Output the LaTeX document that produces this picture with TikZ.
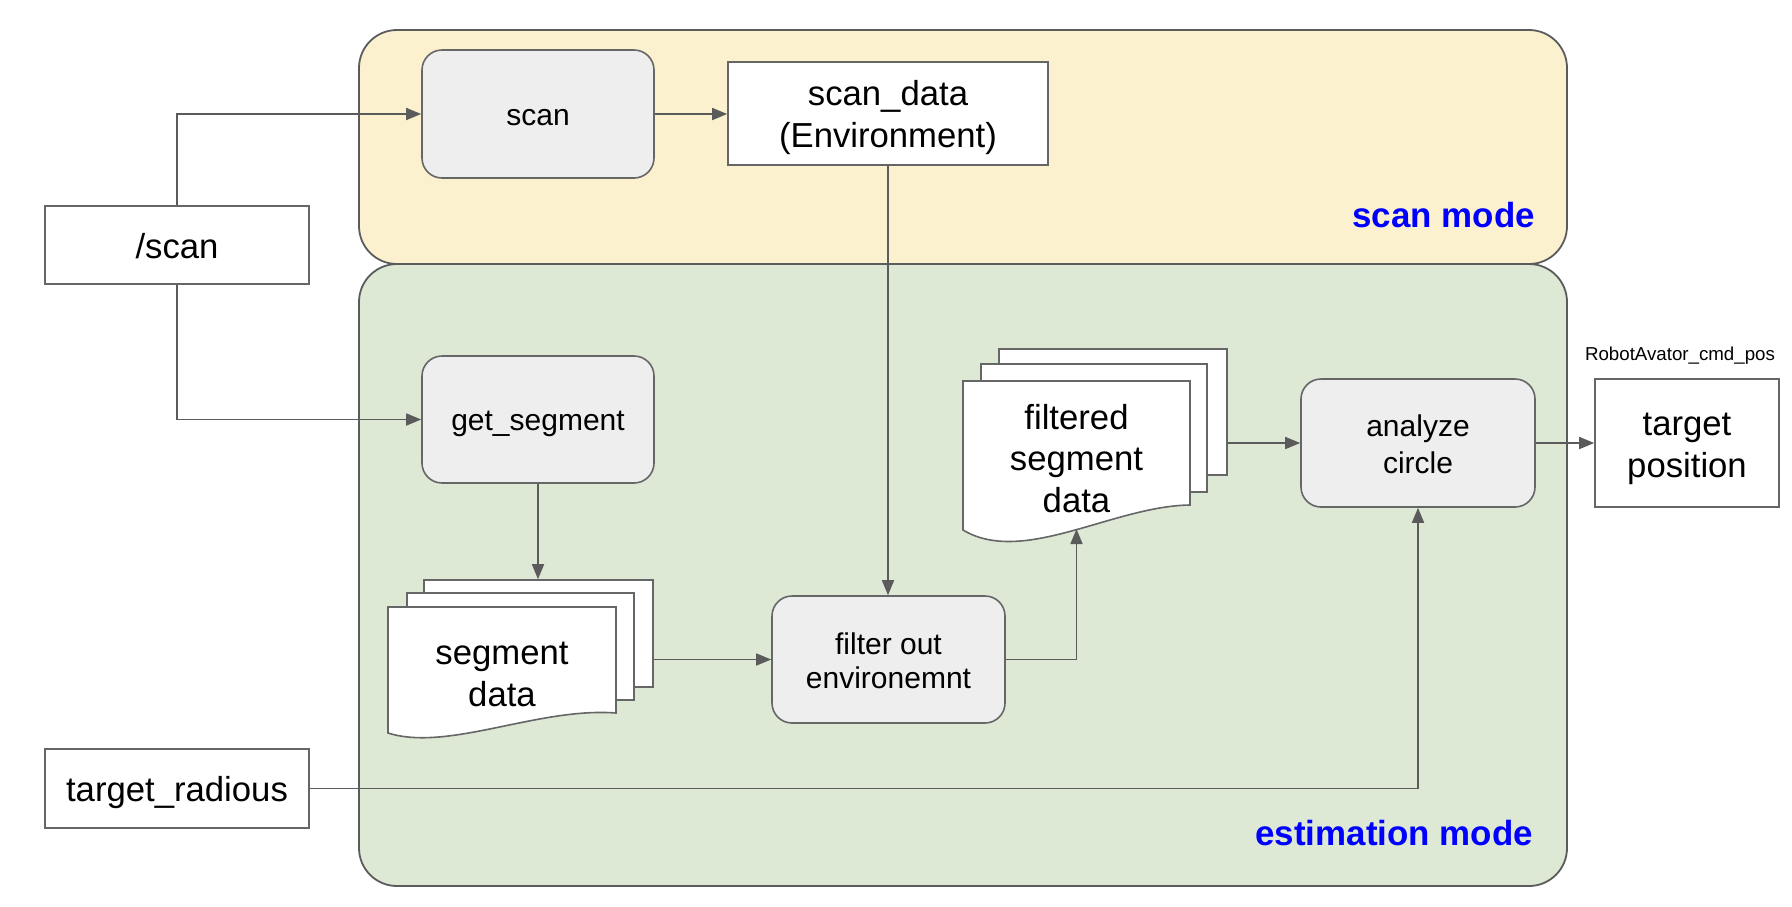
\documentclass[tikz,border=0pt]{standalone}
\usepackage{fontspec}
\setmainfont{Liberation Sans}
\usetikzlibrary{arrows.meta}
\definecolor{ybg}{HTML}{FCF1CF}
\definecolor{gbg}{HTML}{DDE8D5}
\definecolor{procfill}{HTML}{EEEEEE}
\definecolor{edgegray}{HTML}{666666}
\definecolor{lingray}{HTML}{5B5B5B}
\definecolor{modeblue}{HTML}{0000FF}
\newcommand{\lstrut}{\rule[-0.18em]{0pt}{1.15em}}
\begin{document}
\begin{tikzpicture}[x=1pt,y=-1pt,
  container/.style={draw=lingray, line width=1.8pt, rounded corners=38pt, inner sep=0pt},
  proc/.style={draw=edgegray, fill=procfill, line width=1.6pt, rounded corners=20pt, inner sep=0pt, align=center, font=\fontsize{30}{34.5}\selectfont},
  databox/.style={draw=edgegray, fill=white, line width=1.6pt, inner sep=0pt, align=center, font=\fontsize{34.7}{39.9}\selectfont},
  page/.style={draw=edgegray, fill=white, line width=1.6pt, inner sep=0pt},
  doctext/.style={inner sep=0pt, align=center, font=\fontsize{34.7}{39.9}\selectfont},
  arr/.style={draw=lingray, line width=1.6pt, -{Triangle[length=15pt,width=12pt]}},
  modelabel/.style={font=\fontsize{34.9}{42}\selectfont\bfseries, text=modeblue, anchor=base east, inner sep=0pt},
]
\useasboundingbox (0,0) rectangle (1792,906);
\fill[white] (0,0) rectangle (1792,906);

% containers
\node[container, fill=gbg, minimum width=1208pt, minimum height=622pt] (estc) at (963,575) {};
\node[container, fill=ybg, minimum width=1208pt, minimum height=234pt] (scanc) at (963,147) {};
\node[modelabel] (scanlbl) at (1535,227) {scan mode};
\node[modelabel] (estlbl) at (1533,845) {estimation mode};

% boxes
\node[databox, minimum width=264pt, minimum height=78pt] (sl) at (177,245) {\lstrut/scan};
\node[databox, minimum width=264pt, minimum height=79pt] (tr) at (177,788.5) {\lstrut target\_radious};
\node[proc, minimum width=232pt, minimum height=128pt] (scan) at (538,114) {\lstrut scan};
\node[databox, minimum width=320pt, minimum height=103pt] (sd) at (888,113.5) {\lstrut scan\_data\\\lstrut(Environment)};
\node[proc, minimum width=232pt, minimum height=127pt] (getseg) at (538,419.5) {\lstrut get\_segment};
\node[proc, minimum width=233pt, minimum height=127pt] (filt) at (888.5,659.5) {\lstrut filter out\\\lstrut environemnt};
\node[proc, minimum width=234pt, minimum height=128pt] (ana) at (1418,443) {\lstrut analyze\\\lstrut circle};
\node[databox, minimum width=184pt, minimum height=128pt] (tp) at (1687,443) {\lstrut target\\\lstrut position};
\node[inner sep=0pt, font=\fontsize{18.7}{21.5}\selectfont] (topic) at (1680,353) {\lstrut RobotAvator\_cmd\_pos};

% segment data stack
\node[page, minimum width=229pt, minimum height=107pt] (segback) at (538.5,633.5) {};
\node[page, minimum width=227pt, minimum height=107pt] (segmid) at (520.5,646.5) {};
\draw[page] (388,607) -- (616,607) -- (616,713) .. controls (538,707) and (448,752) .. (388,733) -- cycle;
\node[doctext] (segdoc) at (502,672) {\lstrut segment\\\lstrut data};

% filtered segment data stack
\node[page, minimum width=228pt, minimum height=126pt] (fback) at (1113,412) {};
\node[page, minimum width=226pt, minimum height=128pt] (fmid) at (1094,428) {};
\draw[page] (963,381) -- (1190,381) -- (1190,505) .. controls (1113,506) and (1023,566) .. (963,530) -- cycle;
\node[doctext] (fdoc) at (1076.5,457) {\lstrut filtered\\\lstrut segment\\\lstrut data};
\coordinate (fbot) at (1076.5,529);

% connectors
\draw[arr] (sl.north) |- (scan.west);
\draw[arr] (sl.south) |- (getseg.west);
\draw[arr] (scan.east) -- (scan.east -| sd.west);
\draw[arr] (sd.south) -- (sd.south |- filt.north);
\draw[arr] (getseg.south) -- (getseg.south |- segback.north);
\draw[arr] (filt.west -| segback.east) -- (filt.west);
\draw[arr] (filt.east) -| (fbot);
\draw[arr] (ana.west -| fback.east) -- (ana.west);
\draw[arr] (ana.east) -- (tp.west);
\draw[arr] (tr.east) -| (ana.south);
\end{tikzpicture}
\end{document}
